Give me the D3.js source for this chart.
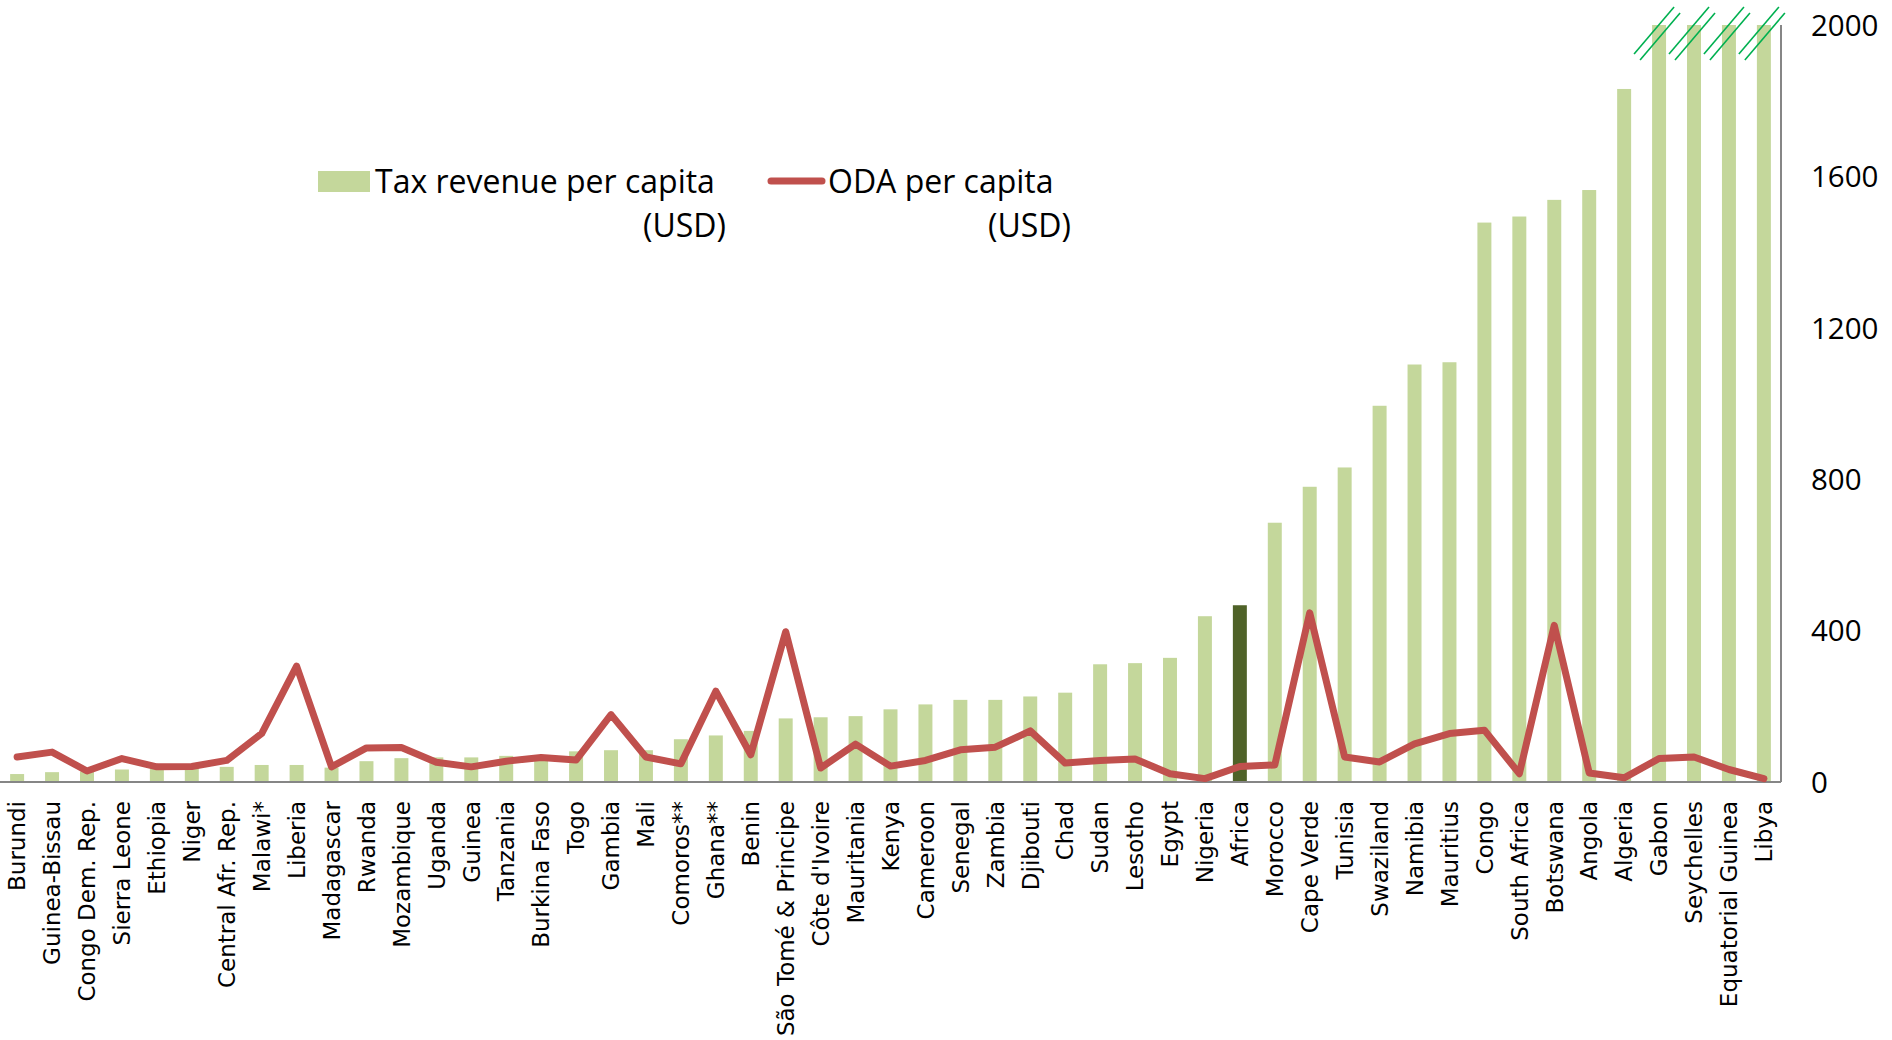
<!DOCTYPE html>
<html>
<head>
<meta charset="utf-8">
<script src="https://cdn.jsdelivr.net/npm/d3@7"></script>
<style>
  html, body { margin: 0; padding: 0; background: #ffffff; }
  svg { display: block; }
</style>
</head>
<body>
<svg id="chart" width="1892" height="1040"></svg>
<script>
// ---- data ----
const categories = ["Burundi","Guinea-Bissau","Congo Dem. Rep.","Sierra Leone","Ethiopia","Niger",
  "Central Afr. Rep.","Malawi*","Liberia","Madagascar","Rwanda","Mozambique","Uganda","Guinea",
  "Tanzania","Burkina Faso","Togo","Gambia","Mali","Comoros**","Ghana**","Benin",
  "São Tomé & Principe","Côte d'Ivoire","Mauritania","Kenya","Cameroon","Senegal","Zambia",
  "Djibouti","Chad","Sudan","Lesotho","Egypt","Nigeria","Africa","Morocco","Cape Verde",
  "Tunisia","Swaziland","Namibia","Mauritius","Congo","South Africa","Botswana","Angola",
  "Algeria","Gabon","Seychelles","Equatorial Guinea","Libya"];

// Tax revenue per capita (USD); bars above the axis maximum are shown cut at 2000
const taxRevenue = [21,26,28,33,35,37,40,45,45,38,55,63,65,65,69,70,81,84,84,113,123,135,
  168,171,174,192,205,217,217,226,236,311,314,328,438,467,685,780,831,994,1103,1109,
  1478,1494,1538,1564,1831,2000,2000,2000,2000];

// ODA per capita (USD)
const odaPerCapita = [66,79,29,62,40,41,57,128,306,40,90,91,52,40,55,65,58,178,66,48,240,72,
  397,37,100,42,57,85,92,135,50,57,61,22,9,41,45,447,66,53,101,128,137,22,414,24,11,62,66,33,9];

const brokenBars = ["Gabon","Seychelles","Equatorial Guinea","Libya"];
const highlightCategory = "Africa";
const yTicks = [0,400,800,1200,1600,2000];
const legendItems = ["Tax revenue per capita", "ODA per capita"];
const legendUnit = "(USD)";

// ---- chart ----
const svg = d3.select("#chart");
const plotLeft = 0, plotRight = 1781, plotTop = 25, plotBottom = 782;

const x = d3.scaleBand().domain(categories).range([plotLeft, plotRight])
  .paddingInner(0.6).paddingOuter(0.29);
const y = d3.scaleLinear().domain([0, 2000]).range([plotBottom, plotTop]);

const rows = categories.map((c, i) => ({c, tax: taxRevenue[i], oda: odaPerCapita[i]}));

// bars
svg.append("g").selectAll("rect").data(rows).join("rect")
  .attr("x", d => x(d.c))
  .attr("y", d => y(Math.min(d.tax, 2000)))
  .attr("width", x.bandwidth())
  .attr("height", d => y(0) - y(Math.min(d.tax, 2000)))
  .attr("fill", d => d.c === highlightCategory ? "#4f6228" : "#c4d79b");

// axes lines
const xAxis = svg.append("g").attr("transform", `translate(0,${plotBottom})`)
  .call(d3.axisBottom(x).tickSize(0).tickFormat(""));
xAxis.select(".domain").attr("stroke", "#868686").attr("stroke-width", 2)
  .attr("d", `M${plotLeft},0H${plotRight}`);

const yAxis = svg.append("g").attr("transform", `translate(${plotRight},0)`)
  .call(d3.axisRight(y).tickValues(yTicks).tickSize(0).tickPadding(30).tickFormat(d3.format("d")));
yAxis.select(".domain").attr("stroke", "#868686").attr("stroke-width", 2)
  .attr("d", `M0,${plotTop}V${plotBottom}`);
yAxis.selectAll("text").attr("font-family", "'Open Sans', sans-serif").attr("font-size", 29.5)
  .attr("fill", "#000").attr("dy", "0.35em");

// category labels
svg.append("g").selectAll("text").data(categories).join("text")
  .attr("transform", d => `translate(${x(d) + x.bandwidth() / 2},${plotBottom + 19}) rotate(-90)`)
  .attr("text-anchor", "end").attr("dy", "0.36em")
  .attr("font-family", "'DejaVu Sans', Verdana, sans-serif").attr("font-size", 23)
  .attr("fill", "#000").text(d => d);

// ODA line
const line = d3.line().x(d => x(d.c) + x.bandwidth() / 2).y(d => y(d.oda));
svg.append("path").datum(rows).attr("d", line)
  .attr("fill", "none").attr("stroke", "#c0504d").attr("stroke-width", 7)
  .attr("stroke-linejoin", "round").attr("stroke-linecap", "round");

// break marks on truncated bars
const brk = svg.append("g").attr("stroke", "#00b050").attr("stroke-width", 1.6);
brokenBars.forEach(c => {
  const cx = x(c) + x.bandwidth() / 2, top = y(2000);
  [[-5, 5.5], [1, 11.5]].forEach(([ox, oy]) => {
    brk.append("line")
      .attr("x1", cx + ox - 20).attr("y1", top + oy + 23.5)
      .attr("x2", cx + ox + 20).attr("y2", top + oy - 23.5);
  });
});

// legend
const lg = svg.append("g").attr("font-family", "'Open Sans', sans-serif").attr("font-size", 32).attr("fill", "#000");
lg.append("rect").attr("x", 318).attr("y", 171).attr("width", 52).attr("height", 21).attr("fill", "#c4d79b");
lg.append("text").attr("x", 375).attr("y", 193).text(legendItems[0]);
lg.append("text").attr("x", 726).attr("y", 237).attr("text-anchor", "end").text(legendUnit);
lg.append("line").attr("x1", 771).attr("x2", 822).attr("y1", 181).attr("y2", 181)
  .attr("stroke", "#c0504d").attr("stroke-width", 7).attr("stroke-linecap", "round");
lg.append("text").attr("x", 828).attr("y", 193).text(legendItems[1]);
lg.append("text").attr("x", 1071).attr("y", 237).attr("text-anchor", "end").text(legendUnit);
</script>
</body>
</html>
